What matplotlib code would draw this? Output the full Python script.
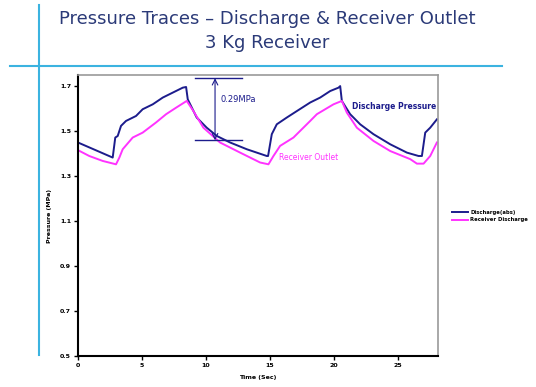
import matplotlib
matplotlib.use("Agg")
import matplotlib.pyplot as plt
import numpy as np

# discharge pressure trace (time s, pressure MPa)
t_dis = [0.0, 2.71, 2.91, 3.10, 3.36, 3.75, 4.53, 5.05, 5.84, 6.62, 7.40, 8.18, 8.44,
         8.57, 9.27, 10.05, 10.84, 11.88, 13.18, 14.74, 14.84, 15.13, 15.52, 16.30,
         17.09, 18.13, 18.91, 19.69, 20.34, 20.47, 20.60, 21.25, 22.03, 23.07, 24.38,
         25.68, 26.59, 26.85, 27.11, 27.50, 28.02]
p_dis = [1.450, 1.383, 1.472, 1.479, 1.524, 1.546, 1.568, 1.598, 1.620, 1.650, 1.672,
         1.694, 1.697, 1.642, 1.561, 1.516, 1.479, 1.450, 1.420, 1.390, 1.390, 1.487,
         1.531, 1.561, 1.590, 1.628, 1.650, 1.679, 1.694, 1.701, 1.635, 1.576, 1.531,
         1.487, 1.442, 1.405, 1.390, 1.390, 1.494, 1.516, 1.553]

# receiver outlet trace
t_rec = [0.0, 0.88, 1.93, 2.97, 3.23, 3.49, 4.27, 5.05, 6.09, 6.88, 7.66, 8.49, 9.01,
         9.79, 11.09, 12.66, 14.22, 14.87, 15.26, 15.78, 16.82, 18.13, 18.65, 19.95,
         20.60, 20.99, 21.77, 23.07, 24.38, 25.94, 26.46, 26.98, 27.50, 28.02]
p_rec = [1.416, 1.390, 1.368, 1.353, 1.383, 1.420, 1.472, 1.494, 1.539, 1.576, 1.605,
         1.635, 1.590, 1.516, 1.450, 1.405, 1.361, 1.353, 1.390, 1.435, 1.472, 1.546,
         1.576, 1.620, 1.635, 1.583, 1.516, 1.457, 1.412, 1.376, 1.356, 1.356, 1.390,
         1.450]

x_ticks = [0, 5, 10, 15, 20, 25]
y_ticks = [0.5, 0.7, 0.9, 1.1, 1.3, 1.5, 1.7]
legend_labels = ["Discharge(abs)", "Receiver Discharge"]

navy = "#1c1c8c"
magenta = "#ff33ff"
title_col = "#2b3a78"
rule_col = "#3bb3e0"

fig = plt.figure(figsize=(5.36, 3.87), dpi=100)
ax = fig.add_axes([0.1455, 0.080, 0.6715, 0.726])

l1, = ax.plot(t_dis, p_dis, color=navy, lw=1.4)
l2, = ax.plot(t_rec, p_rec, color=magenta, lw=1.4)

ax.set_xlim(0, 28.1)
ax.set_ylim(0.5, 1.75)
ax.set_xticks(x_ticks)
ax.set_yticks(y_ticks)
ax.set_xticklabels([str(v) for v in x_ticks], fontsize=4.5, fontweight="bold")
ax.set_yticklabels([f"{v:.1f}" for v in y_ticks], fontsize=4.5, fontweight="bold")
ax.tick_params(direction="out", length=3, width=1, pad=2)
ax.set_xlabel("Time (Sec)", fontsize=4.5, fontweight="bold", labelpad=5)
ax.set_ylabel("Pressure (MPa)", fontsize=4.5, fontweight="bold", labelpad=6)

for s in ["left", "bottom"]:
    ax.spines[s].set_linewidth(1.5)
    ax.spines[s].set_color("black")
for s in ["top", "right"]:
    ax.spines[s].set_linewidth(1.2)
    ax.spines[s].set_color("#999999")

# 0.29 MPa dimension
ax.plot([9.14, 12.81], [1.736, 1.736], color=navy, lw=1)
ax.plot([9.14, 12.81], [1.46, 1.46], color=navy, lw=1)
ax.annotate("", xy=(10.7, 1.736), xytext=(10.7, 1.46),
            arrowprops=dict(arrowstyle="<->", color=navy, lw=0.8, shrinkA=0, shrinkB=0))
ax.text(11.1, 1.642, "0.29MPa", color=navy, fontsize=6, va="center")

ax.text(21.4, 1.612, "Discharge Pressure", color=navy, fontsize=5.5,
        fontweight="bold", va="center")
ax.text(15.7, 1.384, "Receiver Outlet", color=magenta, fontsize=5.5, va="center")

fig.legend([l1, l2], legend_labels, loc="upper left", bbox_to_anchor=(0.835, 0.47),
           frameon=False, handlelength=3, handletextpad=0.4,
           labelspacing=0.5, prop={"size": 3.8, "weight": "bold"})

# title and blue rules
fig.text(0.498, 0.950, "Pressure Traces \u2013 Discharge & Receiver Outlet",
         ha="center", va="center", fontsize=13, color=title_col)
fig.text(0.498, 0.889, "3 Kg Receiver", ha="center", va="center",
         fontsize=13, color=title_col)
fig.add_artist(plt.Line2D([0.0728, 0.0728], [0.987, 0.083], color=rule_col, lw=1.5))
fig.add_artist(plt.Line2D([0.0187, 0.9366], [0.8295, 0.8295], color=rule_col, lw=1.5))

fig.savefig("out.png", dpi=100)
